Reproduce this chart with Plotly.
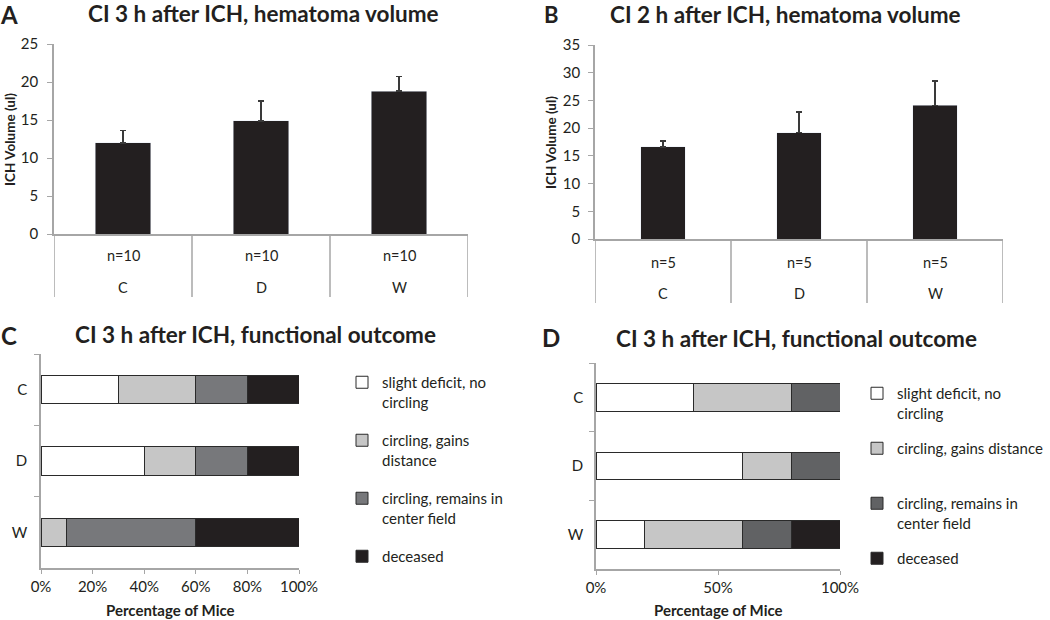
import plotly.graph_objects as go

# ---------------- data ----------------
groups = ["C", "D", "W"]

# Panel A: CI 3 h, hematoma volume
n_a = ["n=10", "n=10", "n=10"]
vol_a = [12.0, 14.9, 18.8]
err_a = [1.6, 2.6, 1.95]

# Panel B: CI 2 h, hematoma volume
n_b = ["n=5", "n=5", "n=5"]
vol_b = [16.6, 19.2, 24.1]
err_b = [1.1, 3.7, 4.4]

outcomes = ["slight deficit, no<br>circling",
            "circling, gains<br>distance",
            "circling, remains in<br>center field",
            "deceased"]
outcomes_d = ["slight deficit, no<br>circling",
              "circling, gains distance<br> ",
              "circling, remains in<br>center field",
              "deceased"]

# Panel C: percentage of mice per outcome (rows = outcome, cols = C, D, W)
pct_c = [[30, 40, 0],
         [30, 20, 10],
         [20, 20, 50],
         [20, 20, 40]]
# Panel D
pct_d = [[40, 60, 20],
         [40, 20, 40],
         [20, 20, 20],
         [0, 0, 20]]

colors_c = ["#ffffff", "#c6c6c6", "#77787b", "#231f20"]
colors_d = ["#ffffff", "#c6c6c6", "#616264", "#231f20"]

# ---------------- layout helpers ----------------
W, H = 1050, 620
def fx(p):
    return p / W
def fy(p):
    return 1 - p / H

FONT = "Lato"
TXT = "#231f20"
AX = "#a6a6a6"

fig = go.Figure()

# Panel A bars
fig.add_trace(go.Bar(x=groups, y=vol_a, xaxis="x", yaxis="y",
                     marker=dict(color="#231f20"), width=0.4, showlegend=False,
                     error_y=dict(type="data", symmetric=False, array=err_a,
                                  arrayminus=[0, 0, 0], color="#3a3a3a",
                                  thickness=1.5, width=3)))
# Panel B bars
fig.add_trace(go.Bar(x=groups, y=vol_b, xaxis="x2", yaxis="y2",
                     marker=dict(color="#231f20"), width=0.33, showlegend=False,
                     error_y=dict(type="data", symmetric=False, array=err_b,
                                  arrayminus=[0, 0, 0], color="#3a3a3a",
                                  thickness=1.5, width=3)))

# Panel C stacked horizontal bars
for i, name in enumerate(outcomes):
    fig.add_trace(go.Bar(y=groups, x=pct_c[i], orientation="h",
                         xaxis="x3", yaxis="y3", name=name, width=0.4,
                         legend="legend", legendgroup="c%d" % i,
                         marker=dict(color=colors_c[i],
                                     line=dict(color="#2a2a2a", width=1))))
# Panel D stacked horizontal bars
for i, name in enumerate(outcomes_d):
    fig.add_trace(go.Bar(y=groups, x=pct_d[i], orientation="h",
                         xaxis="x4", yaxis="y4", name=name, width=0.4,
                         legend="legend2", legendgroup="d%d" % i,
                         marker=dict(color=colors_d[i],
                                     line=dict(color="#2a2a2a", width=1))))

tickfont = dict(family=FONT, size=15, color=TXT)
common = dict(automargin=False, showgrid=False, zeroline=False,
              showline=True, linecolor=AX, linewidth=1.5, tickcolor=AX)

fig.update_layout(
    width=W, height=H, margin=dict(l=0, r=0, t=0, b=0, autoexpand=False),
    paper_bgcolor="white", plot_bgcolor="white",
    barmode="stack", font=dict(family=FONT, color=TXT),
    # Panel A
    xaxis=dict(domain=[fx(54), fx(468)], anchor="y", type="category",
               range=[-0.5, 2.5], showticklabels=False, ticks="", **common),
    yaxis=dict(domain=[fy(234), fy(44)], anchor="x", range=[0, 25],
               dtick=5, ticks="outside", ticklen=5, ticklabelstandoff=6,
               tickfont=tickfont, **common),
    # Panel B
    xaxis2=dict(domain=[fx(595), fx(1003)], anchor="y2", type="category",
                range=[-0.5, 2.5], showticklabels=False, ticks="", **common),
    yaxis2=dict(domain=[fy(239), fy(45)], anchor="x2", range=[0, 35],
                dtick=5, ticks="outside", ticklen=5, ticklabelstandoff=5,
                tickfont=tickfont, **common),
    # Panel C
    xaxis3=dict(domain=[fx(41), fx(299)], anchor="y3", range=[0, 100],
                dtick=20, ticksuffix="%", ticks="outside", ticklen=4,
                tickfont=tickfont, **common),
    yaxis3=dict(domain=[fy(568), fy(354)], anchor="x3", type="category",
                range=[2.5, -0.5], tickson="boundaries", ticks="outside",
                ticklen=5, ticklabelstandoff=9, tickfont=tickfont, **common),
    # Panel D
    xaxis4=dict(domain=[fx(596), fx(840)], anchor="y4", range=[0, 100],
                dtick=50, ticksuffix="%", ticks="outside", ticklen=4,
                tickfont=tickfont, **common),
    yaxis4=dict(domain=[fy(569), fy(363)], anchor="x4", type="category",
                range=[2.5, -0.5], tickson="boundaries", ticks="outside",
                ticklen=5, ticklabelstandoff=8, tickfont=tickfont, **common),
    legend=dict(x=fx(342), y=fy(366), xanchor="left", yanchor="top",
                font=dict(family=FONT, size=15, color=TXT),
                tracegroupgap=16, valign="top", itemclick=False,
                bgcolor="rgba(0,0,0,0)"),
    legend2=dict(x=fx(857), y=fy(377), xanchor="left", yanchor="top",
                 font=dict(family=FONT, size=15, color=TXT),
                 tracegroupgap=13, valign="top", itemclick=False,
                 bgcolor="rgba(0,0,0,0)"),
)

ann = []
def add_text(text, x, y, size, bold=False, angle=0, xref="paper", xa="center"):
    ann.append(dict(text=("<b>%s</b>" % text) if bold else text,
                    x=x, y=y, xref=xref, yref="paper", showarrow=False,
                    xanchor=xa, yanchor="middle", textangle=angle,
                    font=dict(family=FONT, size=size, color=TXT)))

# Panel letters
add_text("A", fx(9), fy(15), 24, bold=True)
add_text("B", fx(551), fy(14), 22, bold=True)
add_text("C", fx(9), fy(335), 24, bold=True)
add_text("D", fx(551), fy(337), 24, bold=True)

# Titles
add_text("CI 3 h after ICH, hematoma volume", fx(263), fy(13), 22.5, bold=True)
add_text("CI 2 h after ICH, hematoma volume", fx(785), fy(14), 22.5, bold=True)
add_text("CI 3 h after ICH, functional outcome", fx(255), fy(334), 22.5, bold=True)
add_text("CI 3 h after ICH, functional outcome", fx(796), fy(338), 22.5, bold=True)

# Axis titles
add_text("ICH Volume (ul)", fx(10), fy(140), 13.5, bold=True, angle=-90)
add_text("ICH Volume (ul)", fx(551), fy(143), 13.5, bold=True, angle=-90)
add_text("Percentage of Mice", fx(170), fy(610), 15, bold=True)
add_text("Percentage of Mice", fx(718), fy(610), 15, bold=True)

# Category labels under panels A and B (two-level axis)
for g, n in zip(groups, n_a):
    add_text(n, g, fy(256), 14.5, xref="x")
    add_text(g, g, fy(287), 14.5, xref="x")
for g, n in zip(groups, n_b):
    add_text(n, g, fy(262), 14.5, xref="x2")
    add_text(g, g, fy(293), 14.5, xref="x2")

fig.update_layout(annotations=ann)

# Category separators for the two-level axis
shapes = []
for b in [-0.5, 0.5, 1.5, 2.5]:
    shapes.append(dict(type="line", xref="x", yref="paper", x0=b, x1=b,
                       y0=fy(234), y1=fy(297), line=dict(color=AX, width=1.5)))
    shapes.append(dict(type="line", xref="x2", yref="paper", x0=b, x1=b,
                       y0=fy(239), y1=fy(303), line=dict(color=AX, width=1.5)))
fig.update_layout(shapes=shapes)

fig.write_html("out.html", config={"displayModeBar": False},
               post_script="document.body.style.margin='0';"
                           "document.body.style.overflow='hidden';")
